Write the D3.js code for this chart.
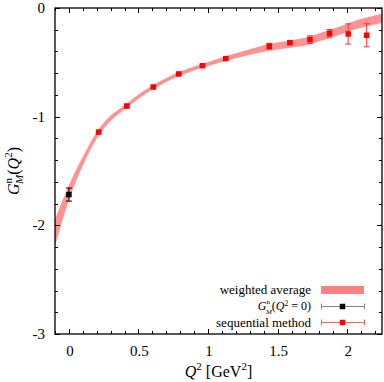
<!DOCTYPE html>
<html>
<head>
<meta charset="utf-8">
<script src="https://cdn.jsdelivr.net/npm/d3@7"></script>
<style>
	body { margin: 0; background: #fff; }
	svg { display: block; }
	text { font-family: "Liberation Serif", "Times New Roman", serif; fill: #000; }
</style>
</head>
<body>
<svg width="384" height="382"></svg>
<script>
// weighted average band: Q2 grid, centre, half width
const bandQ2 = [-0.1, 0, 0.1, 0.2, 0.3, 0.4, 0.5, 0.6, 0.7, 0.8, 0.9, 1.0, 1.1, 1.2, 1.3, 1.4, 1.5, 1.6, 1.7, 1.8, 1.9, 2.0, 2.1, 2.25];
const bandMid = [-2.07, -1.70, -1.41, -1.17, -1.015, -0.915, -0.815, -0.732, -0.662, -0.603, -0.556, -0.515, -0.476, -0.44, -0.405, -0.372, -0.35, -0.33, -0.31, -0.27, -0.228, -0.182, -0.142, -0.095];
const bandHalf = [0.125, 0.07, 0.04, 0.03, 0.025, 0.02, 0.02, 0.019, 0.018, 0.018, 0.018, 0.019, 0.02, 0.023, 0.026, 0.03, 0.032, 0.034, 0.036, 0.037, 0.038, 0.038, 0.04, 0.042];

// sequential method points
const seqQ2 = [0.214, 0.416, 0.607, 0.789, 0.96, 1.127, 1.44, 1.588, 1.732, 1.873, 2.007, 2.14];
const seqG = [-1.142, -0.902, -0.727, -0.607, -0.531, -0.466, -0.352, -0.319, -0.291, -0.233, -0.239, -0.251];
const seqErr = [0.012, 0.012, 0.012, 0.012, 0.012, 0.012, 0.027, 0.018, 0.034, 0.035, 0.093, 0.106];

// G_M^n(Q2 = 0)
const zeroQ2 = [0];
const zeroG = [-1.717];
const zeroErr = [0.06];

const xTicks = [0, 0.5, 1, 1.5, 2];
const yTicks = [0, -1, -2, -3];

function draw_chart() {
	let svg = d3.select("svg");
	let left = 55, right = 382, top = 8, bottom = 334;

	let x = d3.scaleLinear().domain([-0.1, 2.25]).range([left, right]);
	let y = d3.scaleLinear().domain([-3, 0]).range([bottom, top]);

	let clip = svg.append("defs").append("clipPath").attr("id", "plotclip");
	clip.append("rect").attr("x", left).attr("y", top)
		.attr("width", right - left).attr("height", bottom - top);

	let plot = svg.append("g").attr("clip-path", "url(#plotclip)");

	// band
	let band = bandQ2.map(function(q, i) { return [q, bandMid[i] - bandHalf[i], bandMid[i] + bandHalf[i]]; });
	let area = d3.area()
		.x(function(d) { return x(d[0]); })
		.y0(function(d) { return y(d[1]); })
		.y1(function(d) { return y(d[2]); })
		.curve(d3.curveCatmullRom);
	plot.append("path").datum(band)
		.attr("d", area)
		.attr("fill", "#ff8080")
		.attr("fill-opacity", 0.85);

	function draw_points(qs, gs, es, colour, barColour) {
		let g = plot.append("g");
		qs.forEach(function(q, i) {
			let px = x(q), y0 = y(gs[i] - es[i]), y1 = y(gs[i] + es[i]);
			g.append("line").attr("x1", px).attr("x2", px).attr("y1", y0).attr("y2", y1)
				.attr("stroke", barColour).attr("stroke-width", 1);
			[y0, y1].forEach(function(yy) {
				g.append("line").attr("x1", px - 3).attr("x2", px + 3).attr("y1", yy).attr("y2", yy)
					.attr("stroke", barColour).attr("stroke-width", 1);
			});
			g.append("rect").attr("x", px - 2.75).attr("y", y(gs[i]) - 2.75)
				.attr("width", 5.5).attr("height", 5.5).attr("fill", colour);
		});
	}
	draw_points(seqQ2, seqG, seqErr, "#ff0000", "#ff3030");
	draw_points(zeroQ2, zeroG, zeroErr, "#000000", "#000000");

	// ticks on all four sides
	let ax = svg.append("g").attr("stroke", "#000").attr("stroke-width", 1);
	d3.range(-0.1, 2.2501, 0.1).forEach(function(v) {
		let major = Math.abs(v * 2 - Math.round(v * 2)) < 1e-6;
		let len = major ? 5 : 3;
		let px = Math.round(x(v)) + 0.5;
		ax.append("line").attr("x1", px).attr("x2", px).attr("y1", bottom).attr("y2", bottom - len);
		ax.append("line").attr("x1", px).attr("x2", px).attr("y1", top).attr("y2", top + len);
	});
	d3.range(-3, 0.0001, 0.2).forEach(function(v) {
		let major = Math.abs(v - Math.round(v)) < 1e-6;
		let len = major ? 5 : 3;
		let py = Math.round(y(v)) + 0.5;
		ax.append("line").attr("y1", py).attr("y2", py).attr("x1", left).attr("x2", left + len);
		ax.append("line").attr("y1", py).attr("y2", py).attr("x1", right).attr("x2", right - len);
	});
	svg.append("rect").attr("x", left).attr("y", top)
		.attr("width", right - left).attr("height", bottom - top)
		.attr("fill", "none").attr("stroke", "#000").attr("stroke-width", 1.3);

	// tick labels
	svg.selectAll(".xl").data(xTicks).enter().append("text")
		.attr("x", function(d) { return x(d) + 1; })
		.attr("y", bottom + 22)
		.attr("text-anchor", "middle")
		.attr("font-size", 15)
		.text(function(d) { return d; });
	svg.selectAll(".yl").data(yTicks).enter().append("text")
		.attr("x", left - 10)
		.attr("y", function(d) { return y(d) + 5; })
		.attr("text-anchor", "end")
		.attr("font-size", 15)
		.text(function(d) { return d; });

	// axis titles
	let xt = svg.append("text").attr("x", (left + right) / 2).attr("y", 377)
		.attr("text-anchor", "middle").attr("font-size", 16);
	xt.append("tspan").attr("font-style", "italic").text("Q");
	xt.append("tspan").attr("font-size", 11).attr("dy", -7).text("2");
	xt.append("tspan").attr("dy", 7).text(" [GeV");
	xt.append("tspan").attr("font-size", 11).attr("dy", -7).text("2");
	xt.append("tspan").attr("dy", 7).text("]");

	let yt = svg.append("text")
		.attr("transform", "translate(19," + ((top + bottom) / 2) + ") rotate(-90)")
		.attr("text-anchor", "middle").attr("font-size", 16);
	yt.append("tspan").attr("font-style", "italic").text("G");
	yt.append("tspan").attr("font-size", 11).attr("dy", -7).text("n");
	yt.append("tspan").attr("font-size", 11).attr("font-style", "italic").attr("dx", -6).attr("dy", 11).text("M");
	yt.append("tspan").attr("dy", -4).text("(");
	yt.append("tspan").attr("font-style", "italic").text("Q");
	yt.append("tspan").attr("font-size", 11).attr("dy", -7).text("2");
	yt.append("tspan").attr("dy", 7).text(")");

	// legend
	let lx = 311, sx0 = 321, sx1 = 364, rows = [290, 306, 322];
	let leg = svg.append("g");
	leg.append("text").attr("x", lx).attr("y", rows[0] + 3.5).attr("text-anchor", "end")
		.attr("font-size", 13).text("weighted average");
	leg.append("rect").attr("x", sx0).attr("y", rows[0] - 4).attr("width", sx1 - sx0).attr("height", 8)
		.attr("fill", "#ff8080");

	let t2 = leg.append("text").attr("x", lx).attr("y", rows[1] + 4).attr("text-anchor", "end")
		.attr("font-size", 12);
	t2.append("tspan").attr("font-style", "italic").text("G");
	t2.append("tspan").attr("font-size", 7).attr("dy", -6).text("n");
	t2.append("tspan").attr("font-size", 7).attr("font-style", "italic").attr("dx", -4).attr("dy", 9.5).text("M");
	t2.append("tspan").attr("dy", -3.5).text("(");
	t2.append("tspan").attr("font-style", "italic").text("Q");
	t2.append("tspan").attr("font-size", 7.5).attr("dy", -4.5).text("2");
	t2.append("tspan").attr("dy", 4.5).text(" = 0)");

	leg.append("text").attr("x", lx).attr("y", rows[2] + 5).attr("text-anchor", "end")
		.attr("font-size", 13).text("sequential method");

	[[rows[1], "#000", "#888"], [rows[2], "#ff0000", "#ff6060"]].forEach(function(r) {
		let yy = r[0] + 0.5;
		leg.append("line").attr("x1", sx0).attr("x2", sx1).attr("y1", yy).attr("y2", yy)
			.attr("stroke", r[2]).attr("stroke-width", 1);
		[sx0, sx1].forEach(function(ex) {
			leg.append("line").attr("x1", ex + 0.5).attr("x2", ex + 0.5).attr("y1", yy - 3).attr("y2", yy + 3)
				.attr("stroke", r[2]).attr("stroke-width", 1);
		});
		leg.append("rect").attr("x", (sx0 + sx1) / 2 - 2.75).attr("y", yy - 2.75)
			.attr("width", 5.5).attr("height", 5.5).attr("fill", r[1]);
	});
}

draw_chart();
</script>
</body>
</html>
